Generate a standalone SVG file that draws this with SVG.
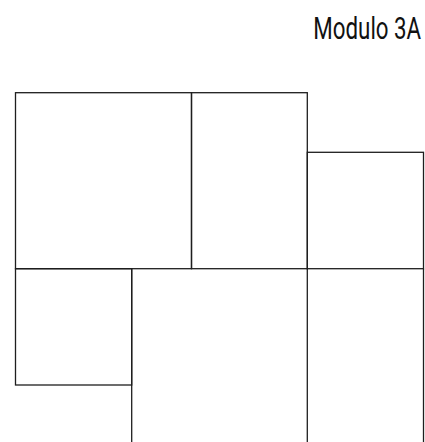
<svg xmlns="http://www.w3.org/2000/svg" width="425" height="442" viewBox="0 0 425 442">
<style>
.ln{fill:none;stroke:#1e1e1e;stroke-width:1.3}
.t{font-family:Roboto,"Liberation Sans",sans-serif;font-size:31px;fill:#111}
</style>
<rect width="425" height="442" fill="#fff"/>
<text id="title" class="t" transform="translate(313.3,39.3) scale(0.72,1)">Modulo 3A</text>
<g id="rooms">
<rect id="roomA" class="ln" x="15.5" y="92.7" width="176" height="176"/>
<rect id="roomB" class="ln" x="191.5" y="92.7" width="115.8" height="176"/>
<rect id="roomC" class="ln" x="307.3" y="152.3" width="116.2" height="116.4"/>
<rect id="roomD" class="ln" x="15.5" y="268.7" width="116.2" height="116.3"/>
</g>
<g id="walls">
<line class="ln" x1="131.7" y1="268.7" x2="131.7" y2="442"/>
<line class="ln" x1="307.3" y1="268.7" x2="307.3" y2="442"/>
<line class="ln" x1="423.5" y1="268.7" x2="423.5" y2="442"/>
</g>
</svg>
